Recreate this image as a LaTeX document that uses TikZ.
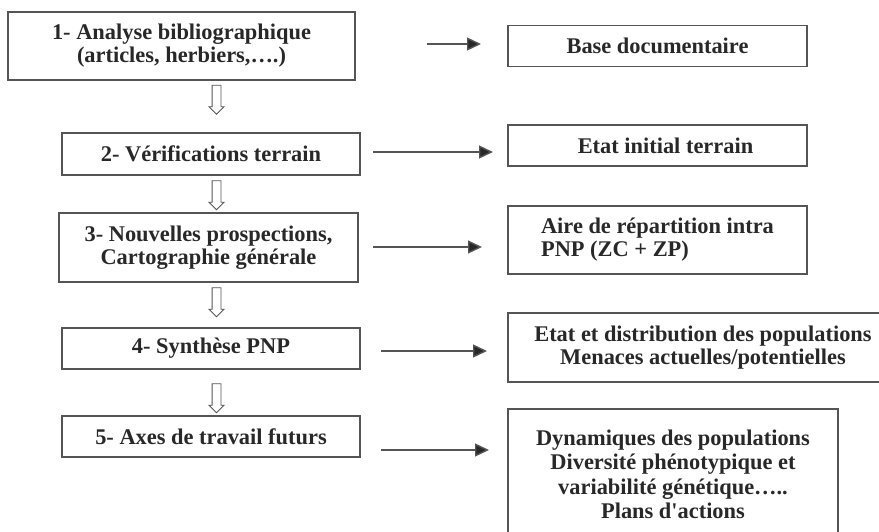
\documentclass[tikz,border=0pt]{standalone}
\usepackage{fontspec}
\setmainfont{Liberation Serif}[Ligatures=TeXOff]
\usetikzlibrary{arrows.meta, shapes.arrows, positioning}
\definecolor{LineColor}{RGB}{85,85,85}
\definecolor{TextColor}{RGB}{40,40,40}

\begin{document}
\begin{tikzpicture}[x=1pt, y=-1pt,
        stepbox/.style={draw=LineColor, line width=1.4pt, text=TextColor, font=\fontsize{22.4}{23}\selectfont\bfseries, align=center, inner sep=2pt, minimum height=#1},
        downarrow/.style={draw=LineColor, line width=0.9pt, single arrow, shape border rotate=270, minimum height=29pt, single arrow head extend=3pt, inner sep=4pt},
        link/.style={draw=LineColor, line width=1.4pt, -{Triangle[length=14pt, width=13pt, fill=TextColor]}}
    ]
        \useasboundingbox (0,0) rectangle (879,531);
        \clip (0,0) rectangle (879,531);

        % steps
        \node[stepbox=68pt, minimum width=347pt] (b1) at (181.5,46) {1- Analyse bibliographique\\(articles, herbiers,\dots.)};
        \node[stepbox=42pt, minimum width=298pt] (b2) at (211,154) {2- Vérifications terrain};
        \node[stepbox=69pt, minimum width=299pt] (b3) at (208.5,247.5) {3- Nouvelles prospections,\\Cartographie générale};
        \node[stepbox=41pt, minimum width=298pt] (b4) at (211,348.5) {4- Synthèse PNP};
        \node[stepbox=41pt, minimum width=298pt] (b5) at (211,436.5) {5- Axes de travail futurs};

        \node[downarrow] (d1) at (216.5,97.5) {};
        \node[downarrow] (d2) at (216.5,193) {};
        \node[downarrow] (d3) at (216.5,300) {};
        \node[downarrow] (d4) at (216.5,396) {};

        % results
        \node[stepbox=41pt, minimum width=299pt] (r1) at (657.5,46) {Base documentaire};
        \node[stepbox=41pt, minimum width=299pt] (r2) at (657.5,145.5) {\hspace*{16pt}Etat initial terrain};
        \node[stepbox=68pt, minimum width=299pt, align=left] (r3) at (657.5,240) {Aire de répartition intra\\PNP (ZC + ZP)};
        \node[stepbox=69pt, minimum width=390pt] (r4) at (703,347.5) {Etat et distribution des populations\\Menaces actuelles/potentielles};
        \node[stepbox=131pt, minimum width=330pt, font=\fontsize{22.4}{24.5}\selectfont\bfseries] (r5) at (673,474.5) {Dynamiques des populations\\Diversité phénotypique et\\variabilité génétique\dots..\\Plans d'actions};

        \coordinate (a1s) at (427,44);  \coordinate (a1e) at (481,44);
        \coordinate (a2s) at (373,152); \coordinate (a2e) at (493,152);
        \coordinate (a3s) at (373,247); \coordinate (a3e) at (482,247);
        \coordinate (a4s) at (381,351); \coordinate (a4e) at (487,351);
        \coordinate (a5s) at (381,450); \coordinate (a5e) at (489,450);

        \draw[link] (a1s) -- (a1e);
        \draw[link] (a2s) -- (a2e);
        \draw[link] (a3s) -- (a3e);
        \draw[link] (a4s) -- (a4e);
        \draw[link] (a5s) -- (a5e);
    \end{tikzpicture}
\end{document}
